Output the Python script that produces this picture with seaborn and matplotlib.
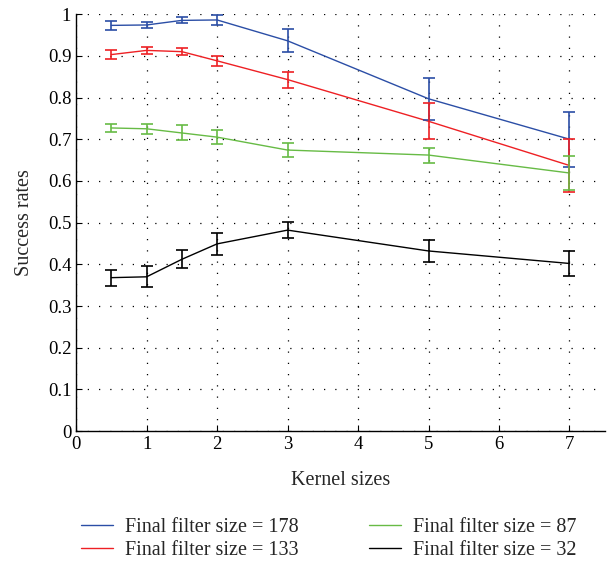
import numpy as np
import pandas as pd
import seaborn as sns
import matplotlib.pyplot as plt

# Kernel sizes and success rates (mean +- error)
kernel_sizes = [0.5, 1, 1.5, 2, 3, 5, 7]
labels = ["Final filter size = 178", "Final filter size = 133",
          "Final filter size = 87", "Final filter size = 32"]
rate_178 = [0.973, 0.974, 0.985, 0.986, 0.936, 0.797, 0.700]
err_178 = [0.010, 0.007, 0.007, 0.012, 0.028, 0.050, 0.066]
rate_133 = [0.903, 0.913, 0.910, 0.888, 0.843, 0.743, 0.637]
err_133 = [0.010, 0.008, 0.008, 0.012, 0.019, 0.043, 0.064]
rate_87 = [0.727, 0.725, 0.715, 0.705, 0.674, 0.662, 0.619]
err_87 = [0.009, 0.012, 0.018, 0.016, 0.016, 0.018, 0.040]
rate_32 = [0.368, 0.370, 0.412, 0.449, 0.482, 0.432, 0.402]
err_32 = [0.019, 0.025, 0.022, 0.026, 0.020, 0.026, 0.029]
colors = ["#2b4ea6", "#ee2024", "#67bb45", "#000000"]

rates = [rate_178, rate_133, rate_87, rate_32]
errs = [err_178, err_133, err_87, err_32]

df = pd.DataFrame({
    "kernel": kernel_sizes * 4,
    "rate": sum(rates, []),
    "err": sum(errs, []),
    "series": sum([[l] * len(kernel_sizes) for l in labels], []),
})

sns.set_style("white")
plt.rcParams["font.family"] = ["Liberation Serif", "DejaVu Serif"]

fig = plt.figure(figsize=(6.09, 5.65), dpi=100)
ax = fig.add_axes([0.125, 0.237, 0.868, 0.738])

sns.lineplot(data=df, x="kernel", y="rate", hue="series", palette=colors,
             hue_order=labels, linewidth=1.0, ax=ax, legend=False)
for lab, col in zip(labels, colors):
    sub = df[df["series"] == lab]
    ax.errorbar(sub["kernel"], sub["rate"], yerr=sub["err"], fmt="none",
                ecolor=col, elinewidth=1.2, capsize=4, capthick=1.2)

ax.set_xlim(0, 7.5)
ax.set_ylim(0, 1)
ax.set_xticks(range(0, 8))
ax.set_yticks(np.round(np.arange(0, 1.01, 0.1), 1))
ax.set_yticklabels(["0"] + [f"{v:.1f}" for v in np.arange(0.1, 0.95, 0.1)] + ["1"])
ax.grid(True, color="black", linestyle=(0, (1, 8)), linewidth=0.9)
for s in ["top", "right"]:
    ax.spines[s].set_visible(False)
for s in ["left", "bottom"]:
    ax.spines[s].set_color("black")
    ax.spines[s].set_linewidth(1.0)
ax.tick_params(direction="in", length=4, labelsize=13.5, colors="black", left=True, bottom=True)
ax.set_xlabel("Kernel sizes", fontsize=14.5, labelpad=13)
ax.set_ylabel("Success rates", fontsize=14.5, labelpad=10)

handles = [plt.Line2D([], [], color=c, linewidth=1.0) for c in colors]
fig.legend(handles, labels, loc="upper center", bbox_to_anchor=(0.54, 0.116),
           ncol=2, frameon=False, fontsize=14.5, handlelength=1.6,
           handletextpad=0.6, columnspacing=3.5, labelspacing=0.2)

fig.savefig("out.png", dpi=100)
